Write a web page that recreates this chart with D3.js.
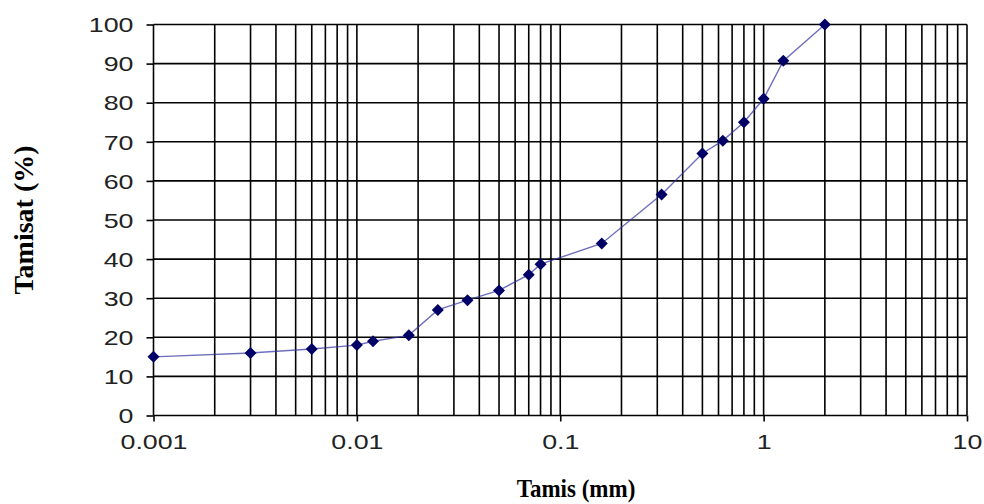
<!DOCTYPE html>
<html>
<head>
<meta charset="utf-8">
<script src="https://cdn.jsdelivr.net/npm/d3@7"></script>
<style>
  html, body { margin: 0; padding: 0; background: #fff; }
  svg { display: block; }
  .tick text { font-family: "Liberation Sans", Arial, sans-serif; font-size: 20px; fill: #222; }
  .title { font-family: "Liberation Serif", "Times New Roman", serif; font-weight: bold; fill: #000; }
</style>
</head>
<body>
<svg id="chart" width="984" height="504"></svg>
<script>
// grain size (mm) and percent passing
const sizes = [0.001, 0.003, 0.006, 0.01, 0.012, 0.018, 0.025, 0.035, 0.05, 0.07, 0.08, 0.16, 0.315, 0.5, 0.63, 0.8, 1, 1.25, 2];
const passing = [15, 16, 17, 18, 19, 20.5, 27, 29.5, 32, 36, 38.7, 44, 56.5, 67, 70.3, 75, 81, 90.7, 100];
const xTicks = [0.001, 0.01, 0.1, 1, 10];
const xLabels = ['0.001', '0.01', '0.1', '1', '10'];
const yTicks = [0, 10, 20, 30, 40, 50, 60, 70, 80, 90, 100];

const stretch = 1.34; // tick labels are wider than normal in the picture

const svg = d3.select('#chart');
const x = d3.scaleLog().domain([0.001, 10]).range([153.5, 967]);
const y = d3.scaleLinear().domain([0, 100]).range([415.5, 24.5]);

// minor grid values 1..9 per decade
const gridX = [];
xTicks.slice(0, -1).forEach(d => { for (let k = 1; k <= 9; k++) gridX.push(d * k); });
gridX.push(10);

const grid = svg.append('g').attr('stroke', '#000').attr('stroke-width', 1.6);
grid.selectAll('line.v').data(gridX).enter().append('line')
  .attr('x1', d => x(d)).attr('x2', d => x(d)).attr('y1', y(100)).attr('y2', y(0));
grid.selectAll('line.h').data(yTicks).enter().append('line')
  .attr('x1', x(0.001)).attr('x2', x(10)).attr('y1', d => y(d)).attr('y2', d => y(d));

const yAxis = svg.append('g').attr('transform', `translate(${x(0.001)},0)`)
  .call(d3.axisLeft(y).tickValues(yTicks).tickSize(7).tickPadding(13).tickFormat(d3.format('d')));
yAxis.select('.domain').remove();
yAxis.selectAll('.tick line').attr('stroke', '#000').attr('stroke-width', 1.6);
yAxis.selectAll('.tick text').attr('x', -20 / stretch).attr('transform', `scale(${stretch},1)`).attr('dy', '0.36em');

const xAxis = svg.append('g').attr('transform', `translate(0,${y(0)})`)
  .call(d3.axisBottom(x).tickValues(xTicks).tickSize(6).tickPadding(13).tickFormat((d, i) => xLabels[i]));
xAxis.select('.domain').remove();
xAxis.selectAll('.tick line').attr('stroke', '#000').attr('stroke-width', 1.6);
xAxis.selectAll('.tick text').attr('transform', `scale(${stretch},1)`);

const pts = sizes.map((s, i) => [s, passing[i]]);
svg.append('path').datum(pts)
  .attr('fill', 'none').attr('stroke', '#3030a0').attr('stroke-width', 1.4).attr('stroke-opacity', 0.7)
  .attr('d', d3.line().x(d => x(d[0])).y(d => y(d[1])));

svg.append('g').selectAll('path').data(pts).enter().append('path')
  .attr('d', 'M0,-6L6,0L0,6L-6,0Z')
  .attr('fill', '#000066')
  .attr('transform', d => `translate(${x(d[0])},${y(d[1])})`);

svg.append('text').attr('class', 'title').attr('text-anchor', 'middle')
  .attr('font-size', 25)
  .attr('transform', 'translate(576,497) scale(0.92,1)').text('Tamis (mm)');
svg.append('text').attr('class', 'title').attr('text-anchor', 'middle')
  .attr('font-size', 28)
  .attr('transform', 'translate(33,220) rotate(-90)').text('Tamisat (%)');
</script>
</body>
</html>
